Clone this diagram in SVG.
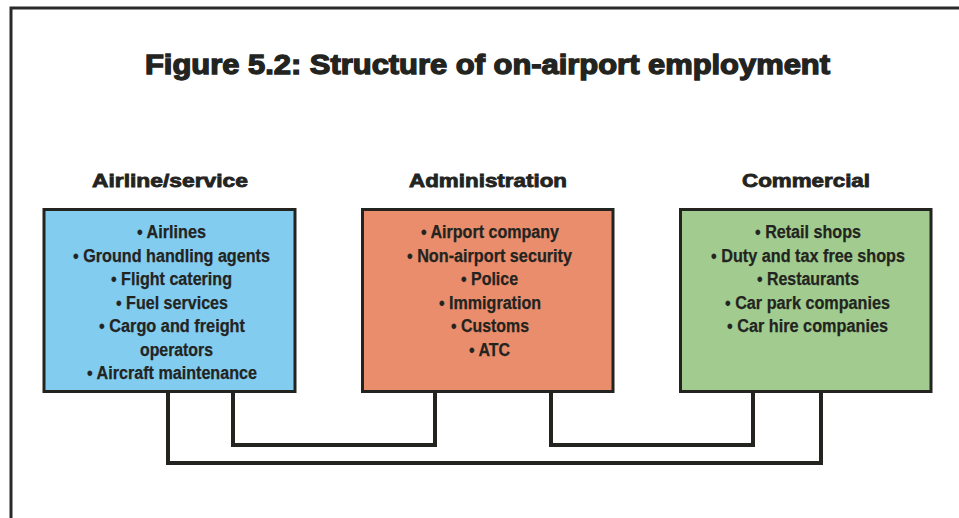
<svg xmlns="http://www.w3.org/2000/svg" width="959" height="518" viewBox="0 0 959 518">
  <style>
    .frame { fill: none; stroke: #2a2b28; stroke-width: 3; }
    .title { font-family: "Liberation Sans", Arial, sans-serif; font-weight: bold; font-size: 27px; fill: #23241f; stroke: #23241f; stroke-width: 1.3; }
    .head { font-family: "Liberation Sans", Arial, sans-serif; font-weight: bold; font-size: 18.5px; fill: #23241f; stroke: #23241f; stroke-width: 0.8; text-anchor: middle; }
    .box { stroke: #23241f; stroke-width: 3; }
    .item { font-family: "Liberation Sans", Arial, sans-serif; font-weight: bold; font-size: 18px; fill: #23241f; stroke: #23241f; stroke-width: 0.25; text-anchor: middle; }
    .conn { fill: none; stroke: #23241f; stroke-width: 4; stroke-linejoin: miter; stroke-linecap: square; }
  </style>
  <rect x="0" y="0" width="959" height="518" fill="#ffffff"/>
  <path class="frame" d="M11,520 V8 H962"/>
  <text class="title" x="145" y="74" textLength="685" lengthAdjust="spacingAndGlyphs">Figure 5.2: Structure of on-airport employment</text>

  <g id="connectors">
    <path class="conn" d="M233,393 V445 H435 V393"/>
    <path class="conn" d="M551,393 V445 H753 V393"/>
    <path class="conn" d="M168,393 V463 H821 V393"/>
  </g>

  <g id="airline">
    <text class="head" x="170" y="187" textLength="156" lengthAdjust="spacingAndGlyphs">Airline/service</text>
    <rect class="box" x="44" y="209.5" width="251" height="182" fill="#82ccf0"/>
    <text class="item" x="171.5" y="238" textLength="69" lengthAdjust="spacingAndGlyphs">• Airlines</text>
    <text class="item" x="171.5" y="261.5" textLength="197" lengthAdjust="spacingAndGlyphs">• Ground handling agents</text>
    <text class="item" x="171.5" y="285" textLength="121" lengthAdjust="spacingAndGlyphs">• Flight catering</text>
    <text class="item" x="172" y="308.5" textLength="112" lengthAdjust="spacingAndGlyphs">• Fuel services</text>
    <text class="item" x="172" y="332" textLength="146" lengthAdjust="spacingAndGlyphs">• Cargo and freight</text>
    <text class="item" x="176.5" y="355.5" textLength="73" lengthAdjust="spacingAndGlyphs">operators</text>
    <text class="item" x="172" y="379" textLength="170" lengthAdjust="spacingAndGlyphs">• Aircraft maintenance</text>
  </g>

  <g id="administration">
    <text class="head" x="488" y="187" textLength="158" lengthAdjust="spacingAndGlyphs">Administration</text>
    <rect class="box" x="362.5" y="209.5" width="250.5" height="182" fill="#e98d6d"/>
    <text class="item" x="490" y="238" textLength="138" lengthAdjust="spacingAndGlyphs">• Airport company</text>
    <text class="item" x="489.5" y="261.5" textLength="165" lengthAdjust="spacingAndGlyphs">• Non-airport security</text>
    <text class="item" x="489.5" y="285" textLength="57" lengthAdjust="spacingAndGlyphs">• Police</text>
    <text class="item" x="490" y="308.5" textLength="102" lengthAdjust="spacingAndGlyphs">• Immigration</text>
    <text class="item" x="490" y="332" textLength="78" lengthAdjust="spacingAndGlyphs">• Customs</text>
    <text class="item" x="489.5" y="355.5" textLength="41" lengthAdjust="spacingAndGlyphs">• ATC</text>
  </g>

  <g id="commercial">
    <text class="head" x="806" y="187" textLength="128" lengthAdjust="spacingAndGlyphs">Commercial</text>
    <rect class="box" x="680.5" y="209.5" width="250.5" height="182" fill="#a2cc8f"/>
    <text class="item" x="808" y="238" textLength="106" lengthAdjust="spacingAndGlyphs">• Retail shops</text>
    <text class="item" x="808" y="261.5" textLength="194" lengthAdjust="spacingAndGlyphs">• Duty and tax free shops</text>
    <text class="item" x="808" y="285" textLength="102" lengthAdjust="spacingAndGlyphs">• Restaurants</text>
    <text class="item" x="807.5" y="308.5" textLength="165" lengthAdjust="spacingAndGlyphs">• Car park companies</text>
    <text class="item" x="807.5" y="332" textLength="161" lengthAdjust="spacingAndGlyphs">• Car hire companies</text>
  </g>
</svg>
